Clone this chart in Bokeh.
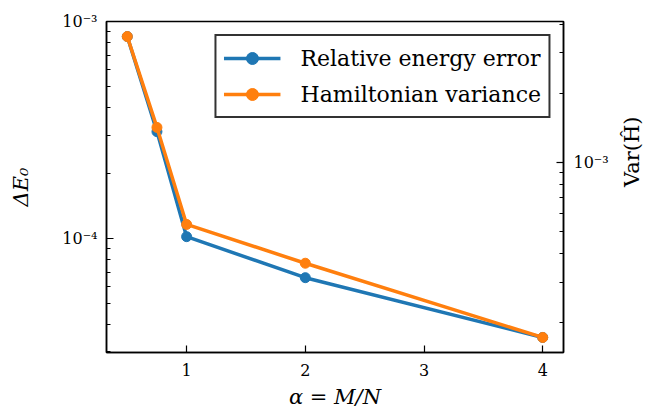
import math
from bokeh.plotting import figure
from bokeh.models import (Range1d, LogScale, LogAxis, FixedTicker, CustomJSTickFormatter,
                          Legend, LegendItem)
from bokeh.embed import file_html
from bokeh.resources import INLINE

# ---- data ----
alpha = [0.5, 0.75, 1.0, 2.0, 4.0]
rel_energy_error = [8.53e-4, 3.11e-4, 1.02e-4, 6.6e-5, 3.5e-5]
ham_variance = [3.53e-3, 1.42e-3, 5.37e-4, 3.64e-4, 1.73e-4]

x_ticks = [1, 2, 3, 4]
left_major = [1e-4, 1e-3]
left_minor = [m * 10.0 ** e for e in (-5, -4) for m in range(2, 10)]
right_major = [1e-3]
right_minor = [m * 10.0 ** e for e in (-4, -3) for m in range(2, 10)]

BLUE = "#1f77b4"
ORANGE = "#ff7f0e"
FONT = "DejaVu Serif"


def lin_range(vals, frac=0.05):
    lo, hi = min(vals), max(vals)
    d = (hi - lo) * frac
    return lo - d, hi + d


def log_range(vals, frac=0.05):
    lo, hi = math.log10(min(vals)), math.log10(max(vals))
    d = (hi - lo) * frac
    return 10 ** (lo - d), 10 ** (hi + d)


xr = lin_range(alpha)
yl = log_range(rel_energy_error)
yr = log_range(ham_variance)

p = figure(width=660, height=414, x_range=Range1d(*xr), y_range=Range1d(*yl),
           y_axis_type="log", output_backend="svg", toolbar_location=None,
           min_border_left=106, min_border_right=97, min_border_top=21, min_border_bottom=62)
p.extra_y_ranges = {"var": Range1d(*yr)}
p.extra_y_scales = {"var": LogScale()}

p.xgrid.visible = False
p.ygrid.visible = False
p.outline_line_color = "black"
p.outline_line_width = 1.5
p.outline_line_alpha = 1.0
p.background_fill_color = "white"
p.border_fill_color = "white"

sup_code = """
const sup = {'-':'\u207b','0':'\u2070','1':'\u00b9','2':'\u00b2','3':'\u00b3','4':'\u2074',
             '5':'\u2075','6':'\u2076','7':'\u2077','8':'\u2078','9':'\u2079'};
const e = Math.round(Math.log10(tick));
return '10' + String(e).split('').map(c => sup[c]).join('');
"""

right_axis = LogAxis(y_range_name="var")
p.add_layout(right_axis, "right")


def style_axis(ax):
    ax.axis_line_color = "black"
    ax.axis_line_width = 1.5
    ax.major_tick_line_color = "black"
    ax.minor_tick_line_color = "black"
    ax.major_tick_line_width = 1.2
    ax.minor_tick_line_width = 1.0
    ax.major_tick_in = 7
    ax.major_tick_out = 0
    ax.minor_tick_in = 4
    ax.minor_tick_out = 0
    ax.major_label_text_font = FONT
    ax.major_label_text_font_size = "16px"
    ax.major_label_text_color = "black"
    ax.axis_label_text_font = FONT
    ax.axis_label_text_font_size = "21px"
    ax.axis_label_text_color = "black"
    ax.axis_label_text_font_style = "normal"


xa = p.xaxis[0]
style_axis(xa)
xa.ticker = FixedTicker(ticks=x_ticks, minor_ticks=[])
xa.axis_label = "α = M/N"
xa.axis_label_text_font_style = "italic"
xa.major_label_standoff = 11
xa.axis_label_standoff = 6

la = p.yaxis[0]
style_axis(la)
la.ticker = FixedTicker(ticks=left_major, minor_ticks=left_minor)
la.formatter = CustomJSTickFormatter(code=sup_code)
la.axis_label = "ΔE₀"
la.axis_label_text_font_style = "italic"
la.major_label_standoff = 9
la.axis_label_standoff = 26

style_axis(right_axis)
right_axis.ticker = FixedTicker(ticks=right_major, minor_ticks=right_minor)
right_axis.formatter = CustomJSTickFormatter(code=sup_code)
right_axis.axis_label = "Var(Ĥ)"
right_axis.major_label_standoff = 10
right_axis.axis_label_standoff = 20
right_axis.axis_label_orientation = math.pi / 2

l1 = p.line(alpha, rel_energy_error, line_color=BLUE, line_width=3.5)
s1 = p.scatter(alpha, rel_energy_error, size=10, fill_color=BLUE, line_color=BLUE)
l2 = p.line(alpha, ham_variance, line_color=ORANGE, line_width=3.5, y_range_name="var")
s2 = p.scatter(alpha, ham_variance, size=10, fill_color=ORANGE, line_color=ORANGE,
               y_range_name="var")

legend = Legend(items=[LegendItem(label="Relative energy error", renderers=[l1, s1]),
                       LegendItem(label="Hamiltonian variance", renderers=[l2, s2])],
                location="top_right")
legend.margin = 13
legend.padding = 7
legend.spacing = 6
legend.glyph_width = 57
legend.glyph_height = 30
legend.label_standoff = 20
legend.label_text_font = FONT
legend.label_text_font_size = "22px"
legend.label_text_color = "black"
legend.border_line_color = "#333333"
legend.border_line_width = 2
legend.border_line_alpha = 1.0
legend.background_fill_alpha = 1.0
p.add_layout(legend)

open("out.html", "w").write(file_html(p, INLINE))
